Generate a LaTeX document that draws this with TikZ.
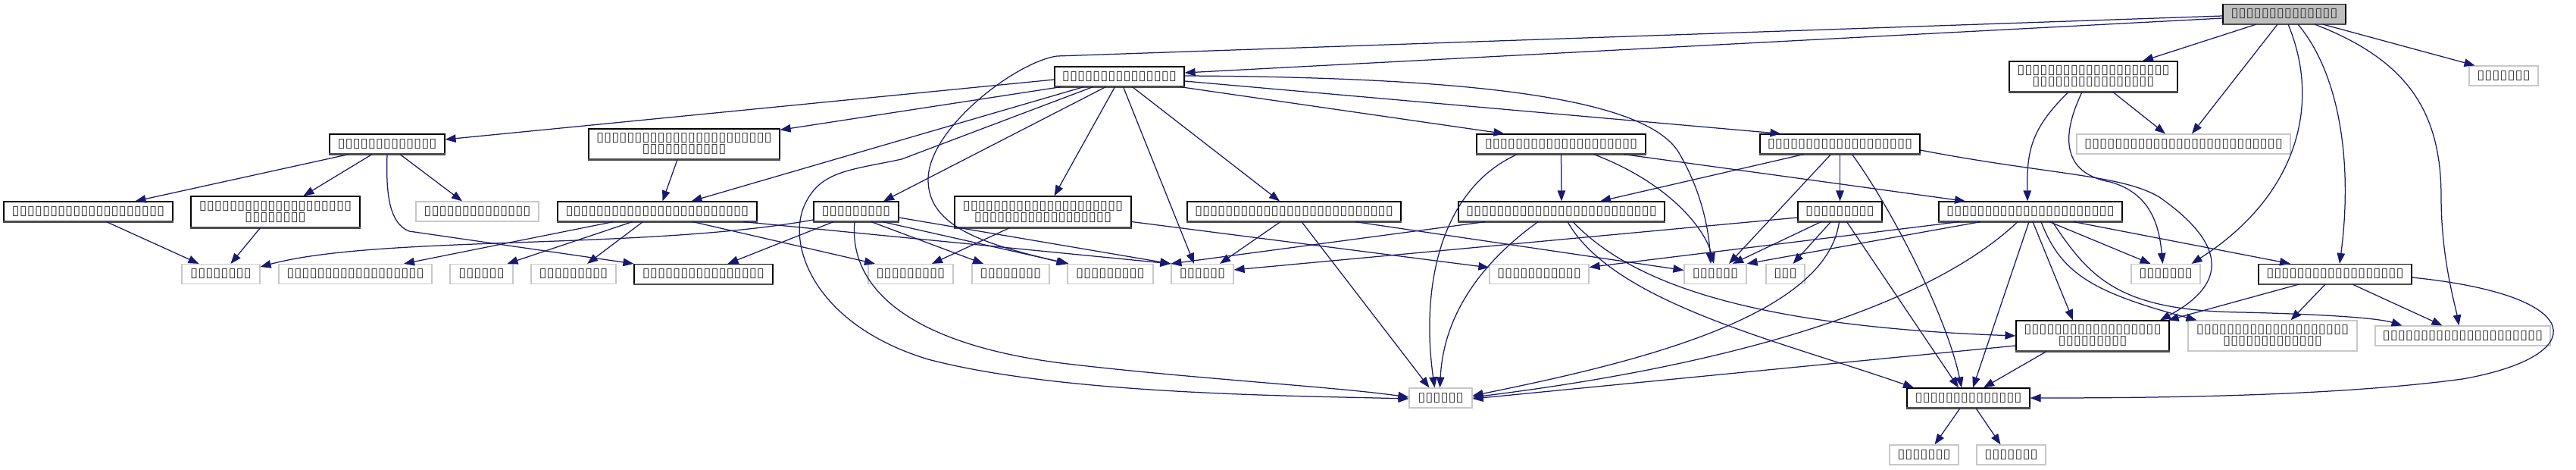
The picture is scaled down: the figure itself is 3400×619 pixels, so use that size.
\documentclass[tikz,border=0pt]{standalone}
\usepackage{fontspec}
\newfontfamily\tofu[FakeStretch=1.077]{DejaVu Sans}
\usetikzlibrary{arrows.meta}
\definecolor{mblue}{HTML}{191970}
\definecolor{gbd}{HTML}{C8C8C8}
\definecolor{rootfill}{HTML}{BFBFBF}
\definecolor{txt}{HTML}{333333}
\tikzset{
  lbl/.style={font={\tofu\fontsize{17pt}{15pt}\selectfont}, text=txt, align=center, inner sep=0pt, minimum height=26pt, fill=white, line width=1.2pt},
  bk/.style={lbl, draw=black, append after command={(\tikzlastnode.south west) edge[draw=black!70, line width=2.4pt] (\tikzlastnode.south east)}},
  gy/.style={lbl, draw=gbd},
  rt/.style={bk, fill=rootfill},
  tall/.style={minimum height=40pt},
  e/.style={draw=mblue, line width=1.25pt, -{Triangle[length=14pt,width=10.5pt]}},
}
\begin{document}
\begin{tikzpicture}[x=1pt,y=-1pt]
\useasboundingbox (0,0) rectangle (3400,619);
% row 0 / 1
\node[rt, minimum width=162pt] (root) at (3015,18.5) {▯▯▯▯▯▯▯▯▯▯▯▯▯▯};
\node[bk, minimum width=171pt] (hub) at (1477.5,101) {▯▯▯▯▯▯▯▯▯▯▯▯▯▯▯};
\node[bk, tall, minimum width=222pt] (n21) at (2763,101) {▯▯▯▯▯▯▯▯▯▯▯▯▯▯▯▯▯▯▯▯\\▯▯▯▯▯▯▯▯▯▯▯▯▯▯▯▯};
\node[gy, minimum width=91pt] (n22) at (3304.5,100) {▯▯▯▯▯▯▯};
% row 2
\node[bk, minimum width=152pt] (L1) at (511,190) {▯▯▯▯▯▯▯▯▯▯▯▯▯};
\node[bk, tall, minimum width=252pt] (L2) at (903,190) {▯▯▯▯▯▯▯▯▯▯▯▯▯▯▯▯▯▯▯▯▯▯▯\\▯▯▯▯▯▯▯▯▯▯▯};
\node[bk, minimum width=223pt] (n24) at (2060.5,190) {▯▯▯▯▯▯▯▯▯▯▯▯▯▯▯▯▯▯▯▯};
\node[bk, minimum width=211pt] (n25) at (2428.5,190) {▯▯▯▯▯▯▯▯▯▯▯▯▯▯▯▯▯▯▯};
\node[gy, minimum width=282pt] (n23) at (2882,190) {▯▯▯▯▯▯▯▯▯▯▯▯▯▯▯▯▯▯▯▯▯▯▯▯▯▯};
% row 3
\node[bk, minimum width=223pt] (Na) at (116.5,279) {▯▯▯▯▯▯▯▯▯▯▯▯▯▯▯▯▯▯▯▯};
\node[bk, tall, minimum width=223pt, minimum height=41pt] (Nb) at (363.5,279.5) {▯▯▯▯▯▯▯▯▯▯▯▯▯▯▯▯▯▯▯▯\\▯▯▯▯▯▯▯▯};
\node[gy, minimum width=162pt] (Nc) at (630,279) {▯▯▯▯▯▯▯▯▯▯▯▯▯▯};
\node[bk, minimum width=263pt] (Nd) at (867.5,279) {▯▯▯▯▯▯▯▯▯▯▯▯▯▯▯▯▯▯▯▯▯▯▯▯};
\node[bk, minimum width=112pt] (Ne) at (1130,279) {▯▯▯▯▯▯▯▯▯};
\node[bk, tall, minimum width=233pt, minimum height=41pt] (Nf) at (1376.5,279.5) {▯▯▯▯▯▯▯▯▯▯▯▯▯▯▯▯▯▯▯▯▯\\▯▯▯▯▯▯▯▯▯▯▯▯▯▯▯▯▯▯};
\node[bk, minimum width=282pt] (Ng) at (1708,279) {▯▯▯▯▯▯▯▯▯▯▯▯▯▯▯▯▯▯▯▯▯▯▯▯▯▯};
\node[bk, minimum width=272pt] (n26) at (2061,279) {▯▯▯▯▯▯▯▯▯▯▯▯▯▯▯▯▯▯▯▯▯▯▯▯▯};
\node[bk, minimum width=111pt] (n27) at (2428.5,279) {▯▯▯▯▯▯▯▯▯};
\node[bk, minimum width=242pt] (n28) at (2680,279) {▯▯▯▯▯▯▯▯▯▯▯▯▯▯▯▯▯▯▯▯▯▯};
% row 4
\node[gy, minimum width=103pt] (n11) at (291.5,361.5) {▯▯▯▯▯▯▯▯};
\node[gy, minimum width=202pt] (n12) at (469,361.5) {▯▯▯▯▯▯▯▯▯▯▯▯▯▯▯▯▯▯};
\node[gy, minimum width=83pt] (n13) at (635.5,361.5) {▯▯▯▯▯▯};
\node[gy, minimum width=112pt] (n14) at (757,361.5) {▯▯▯▯▯▯▯▯▯};
\node[bk, minimum width=183pt] (n15) at (928.5,361.5) {▯▯▯▯▯▯▯▯▯▯▯▯▯▯▯▯};
\node[gy, minimum width=112pt] (n16) at (1202,361.5) {▯▯▯▯▯▯▯▯▯};
\node[gy, minimum width=102pt] (n17) at (1334,361.5) {▯▯▯▯▯▯▯▯};
\node[gy, minimum width=113pt] (n18) at (1465.5,361.5) {▯▯▯▯▯▯▯▯▯};
\node[gy, minimum width=82pt] (n19) at (1587,361.5) {▯▯▯▯▯▯};
\node[gy, minimum width=131pt] (n29) at (2031.5,361.5) {▯▯▯▯▯▯▯▯▯▯▯};
\node[gy, minimum width=82pt] (n30) at (2264,361.5) {▯▯▯▯▯▯};
\node[gy, minimum width=51pt] (n31) at (2356.5,361.5) {▯▯▯};
\node[gy, minimum width=91pt] (n32) at (2858.5,361.5) {▯▯▯▯▯▯▯};
\node[bk, minimum width=202pt] (n33) at (3082,361.5) {▯▯▯▯▯▯▯▯▯▯▯▯▯▯▯▯▯▯};
% row 5
\node[bk, tall, minimum width=202pt] (n34) at (2762,443) {▯▯▯▯▯▯▯▯▯▯▯▯▯▯▯▯▯▯\\▯▯▯▯▯▯▯▯▯};
\node[gy, tall, minimum width=223pt] (n35) at (2999.5,443) {▯▯▯▯▯▯▯▯▯▯▯▯▯▯▯▯▯▯▯▯\\▯▯▯▯▯▯▯▯▯▯▯▯▯};
\node[gy, minimum width=231pt] (n36) at (3250.5,443) {▯▯▯▯▯▯▯▯▯▯▯▯▯▯▯▯▯▯▯▯▯};
% row 6 / 7
\node[gy, minimum width=83pt] (n37) at (1901.5,525) {▯▯▯▯▯▯};
\node[bk, minimum width=162pt] (n38) at (2598,525) {▯▯▯▯▯▯▯▯▯▯▯▯▯▯};
\node[gy, minimum width=91pt] (n39) at (2539.5,600) {▯▯▯▯▯▯▯};
\node[gy, minimum width=91pt] (n40) at (2654.5,600) {▯▯▯▯▯▯▯};

% ---- edges from root
\draw[e] ([yshift=-5.5pt]root.west) -- ([yshift=5pt]hub.east);
\draw[e] ([yshift=-2.5pt]root.west) -- (1395,74) .. controls (1340,82) and (1225,170) .. (1225,237) .. controls (1225,300) and (1300,322) .. (n18.north west);
\draw[e] ([xshift=-37pt]root.south) -- ([xshift=65pt]n21.north);
\draw[e] ([xshift=-9pt]root.south) -- ([xshift=11pt]n23.north);
\draw[e] ([xshift=5pt]root.south) .. controls (3065,140) and (3030,260) .. ([xshift=34pt]n32.north);
\draw[e] ([xshift=18pt]root.south) .. controls (3090,100) and (3105,220) .. ([xshift=6pt]n33.north);
\draw[e] ([xshift=40pt]root.south) .. controls (3180,80) and (3222,150) .. (3222,260) .. controls (3222,340) and (3240,400) .. ([xshift=-5pt]n36.north);
\draw[e] ([xshift=51pt]root.south) -- ([xshift=-38pt]n22.north);
% ---- edges from hub
\draw[e] ([yshift=-4pt]hub.west) -- ([yshift=6pt]L1.east);
\draw[e] ([xshift=-77pt]hub.south) -- ([yshift=-2pt]L2.north east);
\draw[e] ([xshift=-47pt]hub.south) -- ([xshift=45pt]Nd.north);
\draw[e] ([xshift=-35pt]hub.south) -- (1190,210) .. controls (1120,225) and (1080,225) .. (1060,275) .. controls (1040,330) and (1080,430) .. (1225,474) .. controls (1400,520) and (1700,522) .. ([yshift=-1pt]n37.west);
\draw[e] ([xshift=-18pt]hub.south) -- ([xshift=36pt]Ne.north);
\draw[e] ([xshift=-6pt]hub.south) -- ([xshift=15pt]Nf.north);
\draw[e] ([xshift=5pt]hub.south) -- ([xshift=-11pt]n19.north);
\draw[e] ([xshift=17pt]hub.south) -- ([xshift=-19pt]Ng.north);
\draw[e] ([yshift=1pt]hub.east) .. controls (1950,102) and (2170,130) .. (2215,200) .. controls (2245,250) and (2255,300) .. ([xshift=-6pt]n30.north);
\draw[e] ([yshift=-6pt]hub.east) -- ([xshift=-78pt]n25.north);
\draw[e] ([xshift=80pt]hub.south) -- ([xshift=-75pt]n24.north);
% ---- left part
\draw[e] ([xshift=-51pt]L1.south) -- ([xshift=62pt]Na.north);
\draw[e] ([xshift=-20pt]L1.south) -- ([xshift=37pt]Nb.north);
\draw[e] (L1.south) .. controls (509,260) and (515,295) .. (540,305) -- (n15.north west);
\draw[e] ([xshift=17pt]L1.south) -- ([xshift=-20pt]Nc.north);
\draw[e] ([xshift=-9pt]L2.south) -- ([xshift=7pt]Nd.north);
\draw[e] ([xshift=24pt]Na.south) -- ([xshift=-29pt]n11.north);
\draw[e] ([xshift=-20pt]Nb.south) -- ([xshift=13pt]n11.north);
\draw[e] ([xshift=-58pt]Nd.south) -- ([xshift=64pt]n12.north);
\draw[e] ([xshift=-33pt]Nd.south) -- ([xshift=34pt]n13.north);
\draw[e] ([xshift=-19pt]Nd.south) -- ([xshift=18pt]n14.north);
\draw[e] ([xshift=47pt]Nd.south) -- ([xshift=-47pt]n16.north);
\draw[e] ([xshift=114pt]Nd.south) -- (n19.north west);
\draw[e] ([yshift=-11pt]Ne.west) .. controls (850,330) and (500,310) .. ([yshift=9.5pt]n11.east);
\draw[e] ([xshift=-30pt]Ne.south) -- ([xshift=32pt]n15.north);
\draw[e] ([xshift=-2pt]Ne.south) .. controls (1120,380) and (1200,455) .. (1409,480) .. controls (1580,500) and (1760,510) .. ([yshift=1pt]n37.west);
\draw[e] ([xshift=20pt]Ne.south) -- ([xshift=-36pt]n17.north);
\draw[e] ([xshift=35pt]Ne.south) -- ([xshift=-55pt]n18.north);
\draw[e] ([yshift=-8pt]Ne.east) -- (n19.north west);
\draw[e] ([xshift=-44pt]Nf.south) -- ([xshift=28pt]n16.north);
\draw[e] ([yshift=-13pt]Nf.east) -- ([yshift=8.5pt]n29.west);
\draw[e] ([xshift=-18pt]Ng.south) -- ([xshift=23pt]n19.north);
\draw[e] ([xshift=10pt]Ng.south) -- ([xshift=-15pt]n37.north);
\draw[e] ([xshift=81pt]Ng.south) -- ([yshift=5pt]n30.west);
% ---- middle right
\draw[e] (n24.south) -- (n26.north);
\draw[e] ([xshift=43pt]n24.south) .. controls (2200,240) and (2250,300) .. ([xshift=-2pt]n30.north);
\draw[e] ([xshift=83pt]n24.south) -- ([xshift=-86pt]n28.north);
\draw[e] ([xshift=-58pt]n24.south) .. controls (1900,250) and (1875,380) .. ([xshift=-8pt]n37.north);
\draw[e] ([xshift=-48pt]n25.south) -- ([xshift=51pt]n26.north);
\draw[e] ([xshift=-12pt]n25.south) -- ([xshift=18pt]n30.north);
\draw[e] (n25.south) -- (n27.north);
\draw[e] ([xshift=16pt]n25.south) .. controls (2500,280) and (2570,420) .. ([xshift=-9pt]n38.north);
\draw[e] ([yshift=-8pt]n25.east) .. controls (2700,230) and (2800,230) .. (2850,260) .. controls (2950,330) and (2930,380) .. ([xshift=89pt]n34.north);
\draw[e] ([xshift=-33pt]n21.south) .. controls (2680,170) and (2675,200) .. ([xshift=-4pt]n28.north);
\draw[e] ([xshift=-15pt]n21.south) .. controls (2715,190) and (2730,230) .. (2785,240) .. controls (2840,255) and (2850,300) .. ([xshift=-4pt]n32.north);
\draw[e] ([xshift=26pt]n21.south) -- ([xshift=-24pt]n23.north);
\draw[e] ([xshift=-101pt]n26.south) -- (n19.north west);
\draw[e] ([xshift=-31pt]n26.south) .. controls (1950,350) and (1905,420) .. ([xshift=-1pt]n37.north);
\draw[e] ([xshift=8pt]n26.south) .. controls (2130,400) and (2350,450) .. ([xshift=-72pt]n38.north);
\draw[e] ([xshift=15pt]n26.south) .. controls (2150,370) and (2300,430) .. (n34.west);
\draw[e] ([yshift=-8pt]n27.west) -- ([yshift=5.5pt]n19.east);
\draw[e] ([xshift=-25pt]n27.south) -- ([xshift=23pt]n30.north);
\draw[e] ([xshift=-12pt]n27.south) -- ([xshift=10pt]n31.north);
\draw[e] ([xshift=-1pt]n27.south) .. controls (2410,420) and (2150,480) .. ([yshift=3pt]n37.east);
\draw[e] ([xshift=9pt]n27.south) -- ([xshift=-13pt]n38.north);
\draw[e] ([xshift=-94pt]n28.south) -- ([yshift=9pt]n29.east);
\draw[e] ([xshift=-66pt]n28.south) -- (n30.north east);
\draw[e] ([xshift=-17pt]n28.south) .. controls (2550,400) and (2300,480) .. ([yshift=1pt]n37.east);
\draw[e] ([xshift=-2pt]n28.south) -- ([xshift=6pt]n38.north);
\draw[e] ([xshift=3pt]n28.south) -- ([xshift=-26pt]n34.north);
\draw[e] ([xshift=14pt]n28.south) .. controls (2720,360) and (2760,385) .. ([xshift=12pt]n35.north west);
\draw[e] ([xshift=29pt]n28.south) .. controls (2760,370) and (2800,410) .. (2960,412) .. controls (3080,415) and (3140,420) .. ([xshift=-80pt]n36.north);
\draw[e] ([xshift=25pt]n28.south) -- ([xshift=-20pt]n32.north);
\draw[e] ([xshift=57pt]n28.south) -- ([xshift=-59pt]n33.north);
% ---- lower right
\draw[e] ([yshift=-13pt]n34.west) -- ([yshift=-1pt]n37.east);
\draw[e] ([xshift=-61pt]n34.south) -- ([xshift=20pt]n38.north);
\draw[e] ([xshift=-48pt]n33.south) -- ([xshift=-2pt]n34.north east);
\draw[e] ([xshift=-13pt]n33.south) -- ([xshift=24pt]n35.north);
\draw[e] ([xshift=23pt]n33.south) -- ([xshift=-27pt]n36.north);
\draw[e] ([yshift=-4.5pt]n33.east) .. controls (3420,390) and (3420,470) .. (3250,500) .. controls (3100,520) and (2900,525) .. (n38.east);
\draw[e] ([xshift=-11pt]n38.south) -- ([xshift=14pt]n39.north);
\draw[e] ([xshift=10pt]n38.south) -- ([xshift=-14pt]n40.north);
\end{tikzpicture}
\end{document}
